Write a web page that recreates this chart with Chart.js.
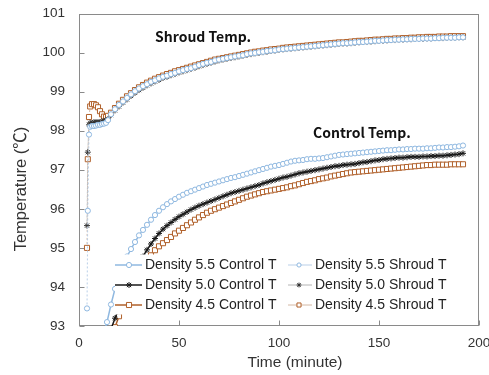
<!DOCTYPE html>
<html>
<head>
<meta charset="utf-8">
<script src="https://cdn.jsdelivr.net/npm/chart.js@4"></script>
<style>
  html, body { margin: 0; padding: 0; background: #fff; }
  canvas { display: block; }
</style>
</head>
<body>
<canvas id="chart" width="489" height="375"></canvas>
<script>
// time axis (minutes) for the two groups of curves
const controlMinutes = [
  12, 14, 16, 18, 20, 22, 24, 26, 28, 30,
  32, 34, 36, 38, 40, 42, 44, 46, 48, 50,
  52, 54, 56, 58, 60, 62, 64, 66, 68, 70,
  72, 74, 76, 78, 80, 82, 84, 86, 88, 90,
  92, 94, 96, 98, 100, 102, 104, 106, 108, 110,
  112, 114, 116, 118, 120, 122, 124, 126, 128, 130,
  132, 134, 136, 138, 140, 142, 144, 146, 148, 150,
  152, 154, 156, 158, 160, 162, 164, 166, 168, 170,
  172, 174, 176, 178, 180, 182, 184, 186, 188, 190,
  192
];
const shroudMinutes = [
  4, 4.4, 5, 5.6, 6.5, 7.5, 8.5, 9.5, 10.5, 11.5, 12.5, 13.5, 14.5,
  16, 18, 20, 22, 24, 26, 28, 30, 32, 34,
  36, 38, 40, 42, 44, 46, 48, 50, 52, 54,
  56, 58, 60, 62, 64, 66, 68, 70, 72, 74,
  76, 78, 80, 82, 84, 86, 88, 90, 92, 94,
  96, 98, 100, 102, 104, 106, 108, 110, 112, 114,
  116, 118, 120, 122, 124, 126, 128, 130, 132, 134,
  136, 138, 140, 142, 144, 146, 148, 150, 152, 154,
  156, 158, 160, 162, 164, 166, 168, 170, 172, 174,
  176, 178, 180, 182, 184, 186, 188, 190, 192
];

// control temperature (°C)
const control55 = [
  92.75, 93.10, 93.55, 93.95, 94.30, 94.55, 94.78, 94.97, 95.15, 95.32,
  95.46, 95.59, 95.72, 95.84, 95.95, 96.04, 96.12, 96.19, 96.25, 96.31,
  96.36, 96.41, 96.45, 96.49, 96.53, 96.57, 96.61, 96.64, 96.67, 96.70,
  96.73, 96.76, 96.79, 96.81, 96.84, 96.87, 96.90, 96.93, 96.96, 96.99,
  97.02, 97.05, 97.08, 97.10, 97.12, 97.15, 97.18, 97.21, 97.23, 97.24,
  97.25, 97.27, 97.28, 97.28, 97.29, 97.30, 97.32, 97.34, 97.36, 97.38,
  97.39, 97.40, 97.41, 97.42, 97.43, 97.44, 97.45, 97.46, 97.47, 97.48,
  97.49, 97.50, 97.50, 97.51, 97.52, 97.52, 97.53, 97.53, 97.54, 97.54,
  97.54, 97.55, 97.55, 97.56, 97.57, 97.57, 97.58, 97.58, 97.59, 97.60,
  97.62
];
const control50 = [
  92.40, 92.65, 92.92, 93.20, 93.45, 93.70, 93.92, 94.15, 94.38, 94.58,
  94.78, 94.95, 95.10, 95.24, 95.37, 95.48, 95.57, 95.65, 95.73, 95.80,
  95.86, 95.92, 95.98, 96.03, 96.08, 96.12, 96.16, 96.20, 96.24, 96.28,
  96.32, 96.36, 96.40, 96.43, 96.46, 96.49, 96.52, 96.55, 96.58, 96.61,
  96.65, 96.68, 96.71, 96.74, 96.77, 96.80, 96.82, 96.85, 96.88, 96.91,
  96.93, 96.95, 96.97, 96.99, 97.01, 97.03, 97.05, 97.07, 97.09, 97.10,
  97.12, 97.13, 97.14, 97.15, 97.17, 97.19, 97.20, 97.22, 97.24, 97.25,
  97.27, 97.28, 97.29, 97.30, 97.31, 97.31, 97.32, 97.33, 97.33, 97.33,
  97.34, 97.34, 97.35, 97.35, 97.36, 97.36, 97.37, 97.38, 97.39, 97.40,
  97.42
];
const control45 = [
  92.20, 92.45, 92.70, 92.97, 93.25, 93.50, 93.73, 93.95, 94.15, 94.33,
  94.50, 94.66, 94.81, 94.94, 95.04, 95.12, 95.20, 95.28, 95.37, 95.44,
  95.51, 95.58, 95.65, 95.72, 95.78, 95.84, 95.90, 95.95, 95.99, 96.03,
  96.07, 96.11, 96.15, 96.19, 96.23, 96.27, 96.31, 96.34, 96.37, 96.40,
  96.43, 96.45, 96.47, 96.49, 96.51, 96.53, 96.55, 96.58, 96.60, 96.63,
  96.66, 96.69, 96.71, 96.73, 96.76, 96.78, 96.80, 96.83, 96.85, 96.87,
  96.89, 96.91, 96.93, 96.94, 96.95, 96.96, 96.97, 96.98, 96.99, 97.00,
  97.01, 97.02, 97.03, 97.04, 97.05, 97.06, 97.07, 97.08, 97.09, 97.10,
  97.11, 97.12, 97.12, 97.13, 97.13, 97.13, 97.13, 97.14, 97.14, 97.14,
  97.14
];

// shroud temperature (°C)
const shroud55 = [
  93.45, 95.95, 97.90, 98.10, 98.12, 98.12, 98.13, 98.15, 98.15, 98.17, 98.18, 98.20, 98.27,
  98.42, 98.55, 98.66, 98.75, 98.84, 98.93, 99.01, 99.08, 99.14, 99.19,
  99.25, 99.29, 99.34, 99.38, 99.41, 99.45, 99.48, 99.52, 99.55, 99.58,
  99.60, 99.64, 99.68, 99.71, 99.74, 99.76, 99.80, 99.82, 99.84, 99.86,
  99.88, 99.90, 99.92, 99.93, 99.96, 99.98, 99.99, 100.01, 100.02, 100.04,
  100.05, 100.06, 100.08, 100.09, 100.10, 100.11, 100.12, 100.13, 100.14, 100.15,
  100.16, 100.17, 100.18, 100.19, 100.20, 100.21, 100.22, 100.23, 100.24, 100.24,
  100.25, 100.26, 100.27, 100.27, 100.28, 100.29, 100.30, 100.30, 100.31, 100.32,
  100.32, 100.33, 100.33, 100.34, 100.34, 100.35, 100.35, 100.35, 100.36, 100.36,
  100.36, 100.37, 100.37, 100.38, 100.38, 100.38, 100.38, 100.39, 100.39
];
const shroud50 = [
  95.57, 97.45, 98.15, 98.20, 98.20, 98.22, 98.22, 98.22, 98.22, 98.24, 98.25, 98.27, 98.30,
  98.40, 98.52, 98.62, 98.72, 98.80, 98.89, 98.97, 99.04, 99.10, 99.16,
  99.21, 99.26, 99.30, 99.35, 99.38, 99.42, 99.45, 99.49, 99.52, 99.55,
  99.58, 99.61, 99.65, 99.68, 99.71, 99.74, 99.77, 99.80, 99.82, 99.84,
  99.86, 99.88, 99.90, 99.92, 99.94, 99.96, 99.98, 99.99, 100.01, 100.02,
  100.04, 100.05, 100.07, 100.08, 100.09, 100.10, 100.11, 100.12, 100.13, 100.14,
  100.15, 100.16, 100.17, 100.18, 100.19, 100.20, 100.21, 100.22, 100.23, 100.23,
  100.24, 100.25, 100.26, 100.27, 100.27, 100.28, 100.29, 100.30, 100.30, 100.31,
  100.32, 100.32, 100.33, 100.33, 100.34, 100.34, 100.35, 100.35, 100.35, 100.36,
  100.36, 100.37, 100.37, 100.37, 100.38, 100.38, 100.38, 100.39, 100.39
];
const shroud45 = [
  95.00, 97.27, 98.35, 98.62, 98.68, 98.68, 98.65, 98.60, 98.50, 98.42, 98.36, 98.35, 98.38,
  98.46, 98.58, 98.69, 98.79, 98.88, 98.96, 99.04, 99.11, 99.17, 99.23,
  99.28, 99.33, 99.37, 99.41, 99.45, 99.48, 99.52, 99.55, 99.58, 99.61,
  99.64, 99.67, 99.70, 99.73, 99.76, 99.79, 99.82, 99.84, 99.86, 99.88,
  99.90, 99.92, 99.94, 99.96, 99.98, 100.00, 100.02, 100.03, 100.05, 100.06,
  100.08, 100.09, 100.10, 100.12, 100.13, 100.14, 100.15, 100.16, 100.17, 100.18,
  100.19, 100.20, 100.21, 100.22, 100.23, 100.24, 100.25, 100.26, 100.26, 100.27,
  100.28, 100.29, 100.30, 100.30, 100.31, 100.32, 100.33, 100.33, 100.34, 100.35,
  100.35, 100.36, 100.36, 100.37, 100.37, 100.38, 100.38, 100.39, 100.39, 100.40,
  100.40, 100.40, 100.41, 100.41, 100.41, 100.42, 100.42, 100.42, 100.42
];

const labels = [
  "Density 5.5 Control T", "Density 5.0 Control T", "Density 4.5 Control T",
  "Density 5.5 Shroud T", "Density 5.0 Shroud T", "Density 4.5 Shroud T"
];

const BLUE = "#8fb8e0";
const BLACK = "#1a1a1a";
const BROWN = "#b0602a";
const FONT = "'Liberation Sans', Arial, 'Noto Sans CJK KR', sans-serif";

function points(xs, ys) {
  return xs.map((x, i) => ({ x: x, y: ys[i] }));
}

function controlSet(label, xs, ys, color, style, radius) {
  return {
    label: label,
    data: points(xs, ys),
    showLine: true,
    borderColor: color,
    borderWidth: 1.5,
    pointStyle: style,
    pointRadius: radius,
    pointBorderWidth: 1,
    pointBorderColor: color,
    pointBackgroundColor: "#ffffff"
  };
}

function shroudSet(label, xs, ys, lineColor, color, style, radius) {
  return {
    label: label,
    data: points(xs, ys),
    showLine: true,
    borderColor: lineColor,
    borderWidth: 1,
    borderDash: [2, 2],
    pointStyle: style,
    pointRadius: radius,
    pointBorderWidth: 1,
    pointBorderColor: color,
    pointBackgroundColor: "#ffffff"
  };
}

// plot frame and inward tick marks
const frame = {
  id: "frame",
  beforeDatasetsDraw(chart) {
    const { ctx, chartArea: a, scales } = chart;
    ctx.save();
    ctx.strokeStyle = "#8a8a8a";
    ctx.lineWidth = 1;
    const l = Math.round(a.left) + 0.5, r = Math.round(a.right) - 0.5;
    const t = Math.round(a.top) + 0.5, b = Math.round(a.bottom) - 0.5;
    ctx.strokeRect(l, t, r - l, b - t);
    ctx.beginPath();
    scales.x.ticks.forEach(tk => {
      const px = Math.round(scales.x.getPixelForValue(tk.value)) + 0.5;
      ctx.moveTo(px, b);
      ctx.lineTo(px, b - 5);
    });
    scales.y.ticks.forEach(tk => {
      const py = Math.round(scales.y.getPixelForValue(tk.value)) + 0.5;
      ctx.moveTo(l, py);
      ctx.lineTo(l + 5, py);
    });
    ctx.stroke();
    ctx.restore();
  }
};

// legend box inside the plot, plus the two text notes
const insideLegend = {
  id: "insideLegend",
  afterDatasetsDraw(chart) {
    const { ctx, chartArea: a } = chart;
    const x0 = a.left + 36, y0 = a.top + 241;
    ctx.save();
    ctx.fillStyle = "#ffffff";
    ctx.fillRect(x0, y0, 345, 60);
    ctx.font = "14px " + FONT;
    ctx.textBaseline = "middle";
    chart.data.datasets.forEach((ds, i) => {
      const col = i < 3 ? 0 : 1;
      const lx = x0 + col * 170;
      const ly = y0 + 10.5 + (i % 3) * 20;
      ctx.strokeStyle = ds.borderColor;
      ctx.lineWidth = col ? 1 : 1.5;
      ctx.setLineDash([]);
      ctx.beginPath();
      ctx.moveTo(lx + col * 3, ly);
      ctx.lineTo(lx + 27, ly);
      ctx.stroke();
      ctx.fillStyle = "#ffffff";
      ctx.strokeStyle = ds.pointBorderColor;
      ctx.lineWidth = 1;
      Chart.helpers.drawPoint(ctx, {
        pointStyle: ds.pointStyle,
        radius: col ? ds.pointRadius * 0.8 : ds.pointRadius,
        rotation: 0,
        borderWidth: 1
      }, lx + 14, ly);
      ctx.fillStyle = "#1f1f1f";
      ctx.fillText(ds.label, lx + 30, ly + 0.5);
    });

    ctx.fillStyle = "#111111";
    ctx.font = "bold 14px 'Noto Sans CJK KR', " + FONT;
    ctx.textBaseline = "alphabetic";
    ctx.fillText("Shroud Temp.", 155, 42);
    ctx.fillText("Control Temp.", 313, 138);
    ctx.restore();
  }
};

// axis titles
const axisTitles = {
  id: "axisTitles",
  afterDraw(chart) {
    const { ctx } = chart;
    ctx.save();
    ctx.fillStyle = "#333333";
    ctx.textAlign = "center";
    ctx.textBaseline = "middle";
    ctx.font = "15.5px " + FONT;
    ctx.fillText("Time (minute)", 295, 363);
    ctx.font = "16.5px " + FONT;
    ctx.translate(21, 189);
    ctx.rotate(-Math.PI / 2);
    ctx.fillText("Temperature (\u2103)", 0, 0);
    ctx.restore();
  }
};

new Chart(document.getElementById("chart"), {
  type: "scatter",
  data: {
    datasets: [
      controlSet(labels[0], controlMinutes, control55, BLUE, "circle", 2.6),
      controlSet(labels[1], controlMinutes, control50, BLACK, "star", 3),
      controlSet(labels[2], controlMinutes, control45, BROWN, "rect", 3.6),
      shroudSet(labels[3], shroudMinutes, shroud55, "#b9cfe8", BLUE, "circle", 2.6),
      shroudSet(labels[4], shroudMinutes, shroud50, "#b4b4b4", "#333333", "star", 3),
      shroudSet(labels[5], shroudMinutes, shroud45, "#d4b8a4", BROWN, "rect", 3.6)
    ]
  },
  options: {
    responsive: false,
    animation: false,
    events: [],
    layout: { padding: { left: 0, top: 13.5, right: 10, bottom: 0 } },
    plugins: {
      legend: { display: false },
      tooltip: { enabled: false }
    },
    scales: {
      x: {
        type: "linear",
        min: 0,
        max: 200,
        ticks: { stepSize: 50, padding: 9, color: "#333333", font: { family: FONT, size: 13.5 } },
        grid: { display: false, drawTicks: false },
        border: { display: false },
        afterFit(s) {
          s.height = 49;
          s.paddingLeft = 0;
          s.paddingRight = 0;
        }
      },
      y: {
        min: 93,
        max: 101,
        ticks: { stepSize: 1, padding: 14, color: "#333333", font: { family: FONT, size: 13.5 } },
        grid: { display: false, drawTicks: false },
        border: { display: false },
        afterFit(s) {
          s.width = 79;
          s.paddingTop = 0;
          s.paddingBottom = 0;
        }
      }
    }
  },
  plugins: [frame, insideLegend, axisTitles]
});
</script>
</body>
</html>
